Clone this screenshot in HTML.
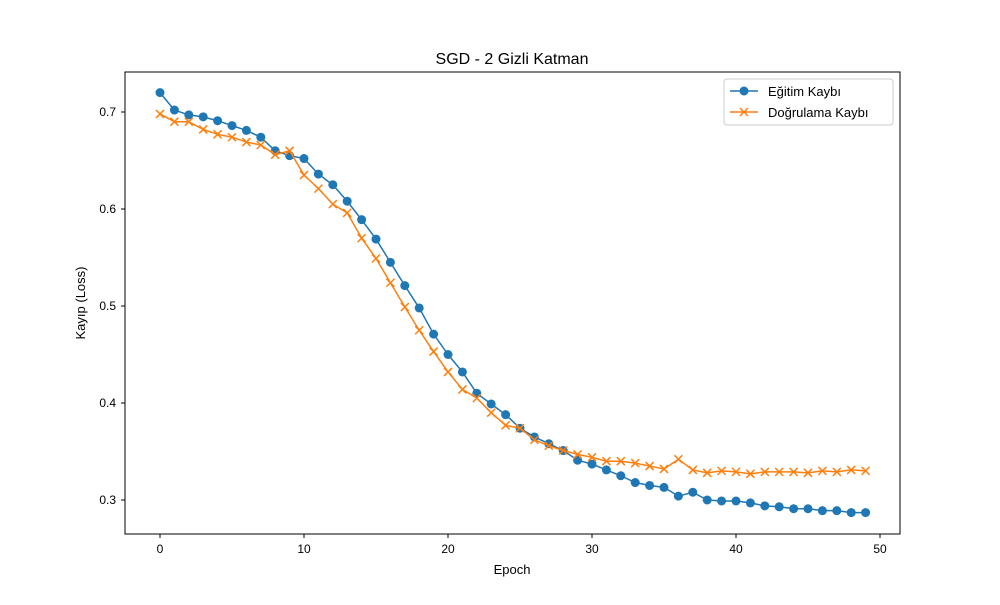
<!DOCTYPE html>
<html><head><meta charset="utf-8"><style>
body{margin:0;background:#fff;}
svg text{font-family:"Liberation Sans","DejaVu Sans",sans-serif;}
</style></head><body>
<svg id="chart" width="1000" height="600">
<rect width="1000" height="600" fill="#fff"/>
<text x="512" y="64" text-anchor="middle" font-size="16">SGD - 2 Gizli Katman</text>
<g id="plot"></g>
<rect x="125" y="72" width="775" height="462" fill="none" stroke="#000" stroke-width="1"/>
<text x="512" y="574" text-anchor="middle" font-size="13">Epoch</text>
<text transform="translate(85,303) rotate(-90)" text-anchor="middle" font-size="13">Kayıp (Loss)</text>
<g>
<rect x="724" y="79" width="169" height="46" rx="3" fill="#fff" stroke="#ccc"/>
<g>
<line x1="730" y1="91" x2="758" y2="91" stroke="#1f77b4" stroke-width="1.5"/>
<circle cx="744" cy="91" r="4.5" fill="#1f77b4"/>
<text x="768" y="96" font-size="13">Eğitim Kaybı</text></g>
<g>
<line x1="730" y1="112" x2="758" y2="112" stroke="#ff7f0e" stroke-width="1.5"/>
<path d="M740,108 l8,8 M748,108 l-8,8" stroke="#ff7f0e" stroke-width="1.5"/>
<text x="768" y="117" font-size="13">Doğrulama Kaybı</text></g>
</g>
</svg>
<script>
const epochs = Array.from({length:50},(_,i)=>i);
const trainLoss = [0.720,0.702,0.697,0.695,0.691,0.686,0.681,0.674,0.660,0.655,0.652,0.636,0.625,0.608,0.589,0.569,0.545,0.521,0.498,0.471,0.450,0.432,0.410,0.399,0.388,0.374,0.365,0.358,0.351,0.341,0.337,0.331,0.325,0.318,0.315,0.313,0.304,0.308,0.300,0.299,0.299,0.297,0.294,0.293,0.291,0.291,0.289,0.289,0.287,0.287];
const valLoss = [0.698,0.690,0.690,0.682,0.677,0.674,0.669,0.666,0.656,0.660,0.635,0.621,0.605,0.596,0.570,0.549,0.524,0.499,0.475,0.453,0.432,0.414,0.405,0.390,0.377,0.374,0.362,0.356,0.351,0.347,0.344,0.340,0.340,0.338,0.335,0.332,0.342,0.331,0.328,0.330,0.329,0.327,0.329,0.329,0.329,0.328,0.330,0.329,0.331,0.330];
const xTicks = [0,10,20,30,40,50];
const yTicks = [0.3,0.4,0.5,0.6,0.7];
const NS='http://www.w3.org/2000/svg';
const xs = v => 160 + v*14.4;
const ys = v => 112 - (v-0.7)*970;
const g = document.getElementById('plot');
function mk(t,a){const e=document.createElementNS(NS,t);for(const k in a)e.setAttribute(k,a[k]);return e;}
xTicks.forEach(t=>{
  const tk=mk('line',{x1:xs(t),x2:xs(t),y1:534,y2:538,stroke:'#000'});
  
  
  g.appendChild(tk);
  const tx=mk('text',{x:xs(t),y:553,'text-anchor':'middle','font-size':12});
  tx.textContent=t;
  
  
  g.appendChild(tx);
});
yTicks.forEach(t=>{
  const tk=mk('line',{x1:121,x2:125,y1:ys(t),y2:ys(t),stroke:'#000'});
  
  
  g.appendChild(tk);
  const tx=mk('text',{x:116,y:ys(t)+4,'text-anchor':'end','font-size':12});
  tx.textContent=t.toFixed(1);
  
  
  g.appendChild(tx);
});
const tl=mk('polyline',{points:trainLoss.map((v,i)=>xs(epochs[i])+','+ys(v)).join(' '),fill:'none',stroke:'#1f77b4','stroke-width':1.5});


g.appendChild(tl);
trainLoss.forEach((v,i)=>{
  const c=mk('circle',{cx:xs(epochs[i]),cy:ys(v),r:4.5,fill:'#1f77b4'});
  
  
  g.appendChild(c);
});
const vl=mk('polyline',{points:valLoss.map((v,i)=>xs(epochs[i])+','+ys(v)).join(' '),fill:'none',stroke:'#ff7f0e','stroke-width':1.5});


g.appendChild(vl);
valLoss.forEach((v,i)=>{
  const x=xs(epochs[i]),y=ys(v);
  const p=mk('path',{d:`M${x-4},${y-4} L${x+4},${y+4} M${x+4},${y-4} L${x-4},${y+4}`,stroke:'#ff7f0e','stroke-width':1.5});
  
  
  g.appendChild(p);
});
</script>
</body></html>
